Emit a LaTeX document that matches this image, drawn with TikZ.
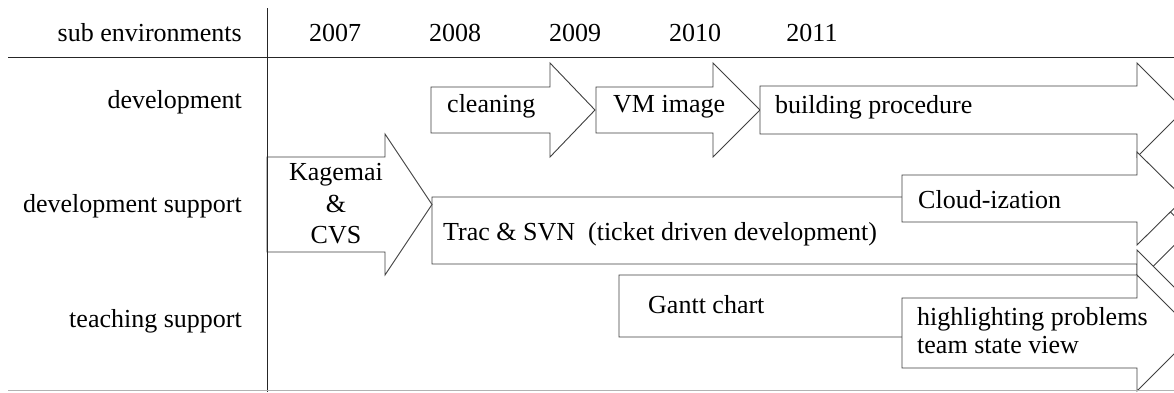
\documentclass[tikz,border=0pt]{standalone}
\usepackage{fontspec}
\setmainfont{Liberation Serif}
\tikzset{
  arr/.style={draw=black!75, fill=white, line width=0.9pt, line join=miter},
  grid/.style={draw=black!85, line width=1pt},
  lbl/.style={inner sep=0pt, font=\fontsize{26}{31}\selectfont, text=black},
}
\newcommand{\blockarr}[7]{% name, left, shaft top, shaft bottom, head base x, head half, tip x
  \filldraw[arr] (#2,#3) -- (#5,#3) -- (#5,{(#3+#4)/2-#6}) -- (#7,{(#3+#4)/2})
    -- (#5,{(#3+#4)/2+#6}) -- (#5,#4) -- (#2,#4) -- cycle;
  \coordinate (#1) at (#2,#3);}
\begin{document}
\begin{tikzpicture}[x=1pt,y=-1pt]
\useasboundingbox (0,0) rectangle (1174,392);
\clip (0,0) rectangle (1174,392);
\fill[white] (0,0) rectangle (1174,392);
% header
\node[lbl, anchor=base east] (hsub) at (242,41) {sub environments};
\node[lbl, anchor=base] (y07) at (335,41) {2007};
\node[lbl, anchor=base] (y08) at (455,41) {2008};
\node[lbl, anchor=base] (y09) at (575,41) {2009};
\node[lbl, anchor=base] (y10) at (695,41) {2010};
\node[lbl, anchor=base] (y11) at (812,41) {2011};
% row labels
\node[lbl, anchor=base east] (rdev) at (242,108) {development};
\node[lbl, anchor=base east] (rsup) at (242,212) {development support};
\node[lbl, anchor=base east] (rtea) at (242,327) {teaching support};
% arrows
\blockarr{trac}{432}{197}{264}{1137}{52}{1189}
\blockarr{kag}{267}{157}{252}{385}{70.5}{432}
\blockarr{clean}{431}{87}{133}{550}{47}{595}
\blockarr{vm}{596}{87}{133}{713}{47}{760}
\blockarr{build}{760}{86}{134}{1137}{47}{1184}
\blockarr{cloud}{902}{175}{222}{1137}{46.5}{1184}
\blockarr{gantt}{619}{275}{337}{1137}{56}{1193}
\blockarr{high}{902}{298}{368}{1137}{58}{1195}
% arrow texts
\node[lbl, anchor=base west] (ttrac) at (443,240) {Trac \& SVN\ \ (ticket driven development)};
\node[lbl, anchor=base] (tkag1) at (336,180) {Kagemai};
\node[lbl, anchor=base] (tkag2) at (336,212) {\&};
\node[lbl, anchor=base] (tkag3) at (336,243) {CVS};
\node[lbl, anchor=base west] (tclean) at (447,112) {cleaning};
\node[lbl, anchor=base west] (tvm) at (613,112) {VM image};
\node[lbl, anchor=base west] (tbuild) at (775,113) {building procedure};
\node[lbl, anchor=base west] (tcloud) at (918,208) {Cloud-ization};
\node[lbl, anchor=base west] (tgantt) at (648,313) {Gantt chart};
\node[lbl, anchor=base west] (thigh1) at (917,325) {highlighting problems};
\node[lbl, anchor=base west] (thigh2) at (917,353) {team state view};
% grid lines
\draw[grid] (8,57.5) -- (1174,57.5);
\draw[grid] (267,8) -- (267,392);
\draw[draw=black!30, line width=1pt] (8,390.5) -- (1174,390.5);
\end{tikzpicture}
\end{document}
